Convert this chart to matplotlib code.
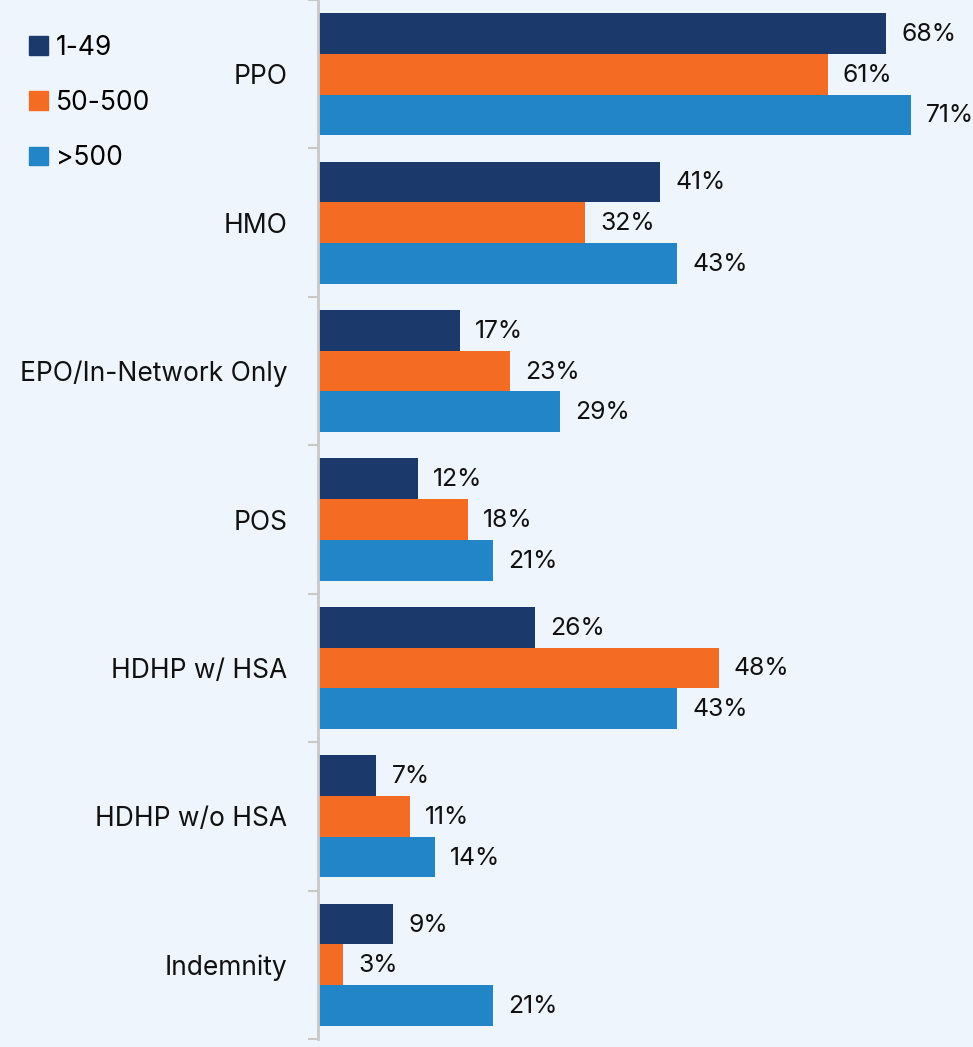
import matplotlib.pyplot as plt
from matplotlib.patches import Patch
import numpy as np

plt.rcParams['font.family'] = ['Inter', 'DejaVu Sans']

categories = ["PPO", "HMO", "EPO/In-Network Only", "POS", "HDHP w/ HSA",
              "HDHP w/o HSA", "Indemnity"]
series_names = ["1-49", "50-500", ">500"]
small = [68, 41, 17, 12, 26, 7, 9]
mid = [61, 32, 23, 18, 48, 11, 3]
large = [71, 43, 29, 21, 43, 14, 21]

colors = ["#1B3A6B", "#F46B23", "#2185C8"]
bg = "#EEF5FC"

fig = plt.figure(figsize=(9.73, 10.47), dpi=100, facecolor=bg)
ax = fig.add_axes([318 / 973, 8 / 1047, 1 - 318 / 973, 1 - 8 / 1047])
ax.set_facecolor(bg)

y = np.arange(len(categories))
h = 0.274
for k, (vals, c) in enumerate(zip([small, mid, large], colors)):
    pos = y + (k - 1) * h
    ax.barh(pos, vals, height=h, color=c, edgecolor=c, linewidth=0)
    for p, v in zip(pos, vals):
        ax.annotate(f"{v}%", (v, p), xytext=(15, -1), textcoords="offset pixels",
                    ha="left", va="center", fontsize=17.8, color="#111111")

ax.set_xlim(0, 655 / 8.353)
ax.set_ylim(len(categories) - 0.5, -0.5)

ax.set_yticks(y)
ax.set_yticklabels(categories, fontsize=19, color="#111111")
ax.set_yticks(np.arange(len(categories) + 1) - 0.5, minor=True)
ax.tick_params(axis="y", which="major", length=0, pad=22)
ax.tick_params(axis="y", which="minor", length=7.2, width=1.5, color="#C8C8C8")
ax.set_xticks([])

for s in ["top", "right", "bottom"]:
    ax.spines[s].set_visible(False)
ax.spines["left"].set_color("#C8C8C8")
ax.spines["left"].set_linewidth(2)

handles = [Patch(facecolor=c, edgecolor=c) for c in colors]
fig.legend(handles, series_names, loc="upper left", bbox_to_anchor=(0.019, 0.977),
           frameon=False, fontsize=19, handlelength=0.72, handleheight=0.72,
           handletextpad=0.3, labelspacing=1.11, borderaxespad=0)

fig.savefig("out.png", dpi=100, facecolor=bg)
